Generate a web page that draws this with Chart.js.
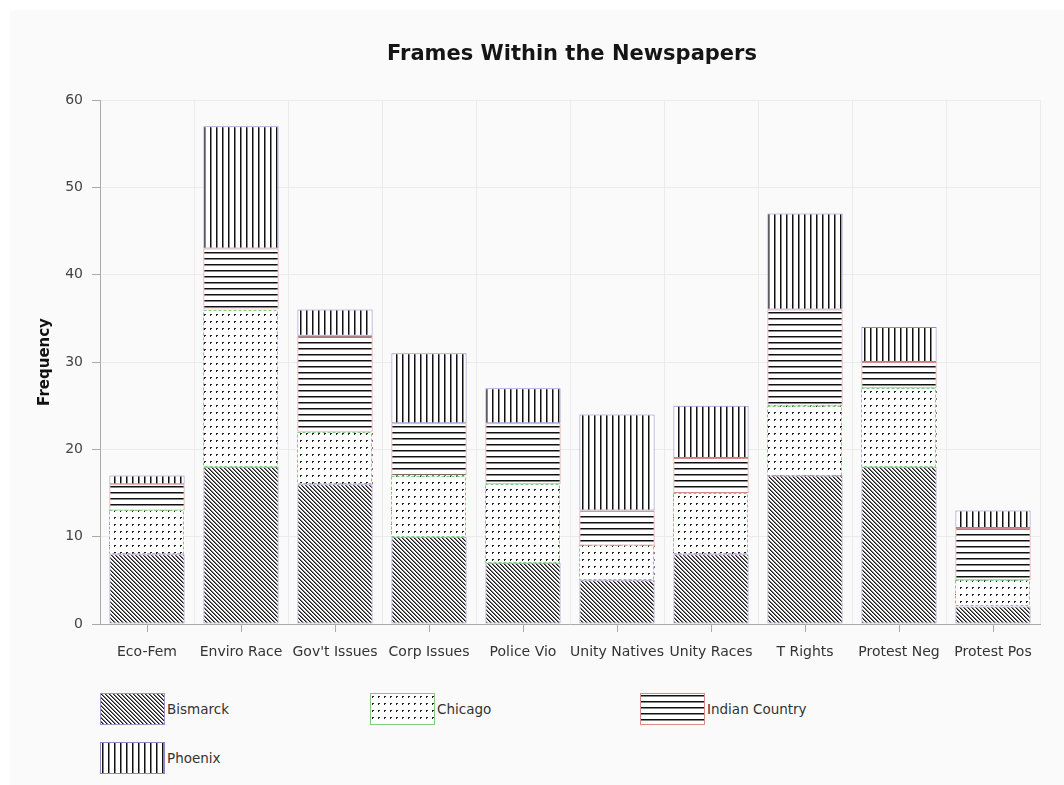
<!DOCTYPE html>
<html>
<head>
<meta charset="utf-8">
<title>Frames Within the Newspapers</title>
<script src="https://cdn.jsdelivr.net/npm/chart.js@4.4.1/dist/chart.umd.min.js"></script>
<style>
  body { margin: 0; background: #fff; font-family: "DejaVu Sans", Verdana, sans-serif; }
  #panel { position: absolute; left: 10px; top: 10px; width: 1054px; height: 775px; background: #fafafa; }
  #chartBox { position: absolute; left: 0; top: 0; width: 1054px; height: 660px; }
  .legend-item { position: absolute; display: flex; align-items: center; font-size: 13.5px; color: #333; }
  .legend-item canvas { display: block; margin-right: 2px; }
</style>
</head>
<body>
<div id="panel">
  <div id="chartBox"><canvas id="framesChart" width="1054" height="660"></canvas></div>
  <div id="legend"></div>
</div>

<script>
/* Frames Within the Newspapers: stacked bar chart, one pattern-filled
   segment per newspaper, with a grid legend underneath. */

const chartTitle = "Frames Within the Newspapers";
const categories = ["Eco-Fem", "Enviro Race", "Gov't Issues", "Corp Issues", "Police Vio",
                    "Unity Natives", "Unity Races", "T Rights", "Protest Neg", "Protest Pos"];
const seriesNames = ["Bismarck", "Chicago", "Indian Country", "Phoenix"];

// segment sizes per newspaper (stacked in this order)
const bismarck      = [8, 18, 16, 10, 7, 5, 8, 17, 18, 2];
const chicago       = [5, 18, 6, 7, 9, 4, 7, 8, 9, 3];
const indianCountry = [3, 7, 11, 6, 7, 4, 4, 11, 3, 6];
const phoenix       = [1, 14, 3, 8, 4, 11, 6, 11, 4, 2];

const yTickValues = [0, 10, 20, 30, 40, 50, 60];

const FONT = "'DejaVu Sans', Verdana, sans-serif";

/* ---------------- fill patterns ---------------- */
function makePattern(kind) {
  const tile = document.createElement("canvas");
  const g = tile.getContext("2d");
  const size = { diagonal: [4, 4], dots: [6, 7], horizontal: [4, 6], vertical: [6, 4] }[kind];
  tile.width = size[0];
  tile.height = size[1];
  g.fillStyle = "#fff";
  g.fillRect(0, 0, tile.width, tile.height);

  if (kind === "diagonal") {
    for (let i = 0; i < 4; i++) {
      g.fillStyle = "#1a1a1a";
      g.fillRect(i, i, 1, 1);
      g.fillStyle = "#777";
      g.fillRect((i + 1) % 4, i, 1, 1);
    }
  } else if (kind === "dots") {
    g.fillStyle = "#222";
    g.fillRect(2, 3, 2, 2);
    g.fillStyle = "#fff";
    g.fillRect(3, 4, 1, 1);
  } else if (kind === "horizontal") {
    g.fillStyle = "#111";
    g.fillRect(0, 2, tile.width, 1);
    g.fillStyle = "#888";
    g.fillRect(0, 3, tile.width, 1);
  } else {
    g.fillStyle = "#111";
    g.fillRect(2, 0, 1, tile.height);
    g.fillStyle = "#888";
    g.fillRect(3, 0, 1, tile.height);
  }
  return document.createElement("canvas").getContext("2d").createPattern(tile, "repeat");
}

const patternKinds = ["diagonal", "dots", "horizontal", "vertical"];
const borderColors = ["#a791c6", "#7fcb7f", "#d68c8c", "#8a8ac6"];
const seriesValues = [bismarck, chicago, indianCountry, phoenix];

/* ---------------- small drawing helpers ---------------- */
const titlePlugin = {
  id: "centeredTitle",
  afterDraw(chart) {
    const { ctx, chartArea } = chart;
    ctx.save();
    ctx.font = "bold 21px " + FONT;
    ctx.fillStyle = "#151515";
    ctx.textAlign = "center";
    ctx.textBaseline = "middle";
    ctx.fillText(chartTitle, (chartArea.left + chartArea.right) / 2 + 2, 45);
    ctx.restore();
  }
};

// tick marks under the category centres (grid lines stay on the boundaries)
const centerTicksPlugin = {
  id: "centerTicks",
  afterDraw(chart) {
    const { ctx } = chart;
    const x = chart.scales.x;
    ctx.save();
    ctx.strokeStyle = "#aaa";
    ctx.lineWidth = 1;
    ctx.beginPath();
    categories.forEach((_, i) => {
      const px = Math.round(x.getPixelForValue(i)) + 0.5;
      ctx.moveTo(px, x.top);
      ctx.lineTo(px, x.top + 8);
    });
    ctx.stroke();
    ctx.restore();
  }
};

// Chicago segments get a dashed outline
const dashedBorderPlugin = {
  id: "dashedBorder",
  afterDatasetsDraw(chart) {
    const { ctx } = chart;
    const meta = chart.getDatasetMeta(1);
    ctx.save();
    ctx.strokeStyle = borderColors[1];
    ctx.lineWidth = 1;
    ctx.setLineDash([3, 2]);
    meta.data.forEach((bar) => {
      const p = bar.getProps(["x", "y", "base", "width"], true);
      const left = Math.round(p.x - p.width / 2) + 0.5;
      const top = Math.round(p.y) + 0.5;
      ctx.strokeRect(left, top, Math.round(p.width) - 1, Math.round(p.base - p.y) - 1);
    });
    ctx.restore();
  }
};

/* ---------------- chart ---------------- */
function renderChart() {
  const ctx = document.getElementById("framesChart");

  new Chart(ctx, {
    type: "bar",
    data: {
      labels: categories,
      datasets: seriesNames.map((name, i) => ({
        label: name,
        data: seriesValues[i],
        backgroundColor: makePattern(patternKinds[i]),
        borderColor: borderColors[i],
        borderWidth: i === 1 ? 0 : 1,
        borderSkipped: false,
        barPercentage: 0.8,
        categoryPercentage: 1.0
      }))
    },
    options: {
      responsive: false,
      animation: false,
      layout: { padding: { top: 90, right: 24, left: 0, bottom: 0 } },
      plugins: {
        legend: { display: false },
        title: { display: false }
      },
      scales: {
        x: {
          stacked: true,
          grid: { color: "#ebebeb", offset: true, drawTicks: false },
          border: { color: "#aaa" },
          ticks: {
            color: "#333",
            font: { family: FONT, size: 14 },
            padding: 20,
            maxRotation: 0,
            autoSkip: false
          },
          afterFit(scale) { scale.height = 46; }
        },
        y: {
          stacked: true,
          min: yTickValues[0],
          max: yTickValues[yTickValues.length - 1],
          ticks: {
            stepSize: yTickValues[1] - yTickValues[0],
            color: "#444",
            font: { family: FONT, size: 14 },
            padding: 9
          },
          grid: { color: "#ebebeb", tickColor: "#aaa", tickLength: 8 },
          border: { color: "#aaa" },
          title: {
            display: true,
            text: "Frequency",
            color: "#111",
            font: { family: FONT, size: 15, weight: "bold" },
            padding: { top: 26, bottom: 0 }
          },
          afterFit(scale) { scale.width = 90; }
        }
      }
    },
    plugins: [titlePlugin, centerTicksPlugin, dashedBorderPlugin]
  });
}

/* ---------------- legend ---------------- */
function renderLegend() {
  const container = document.getElementById("legend");
  const spots = [[90, 683], [360, 683], [630, 683], [90, 732]];

  seriesNames.forEach((name, i) => {
    const item = document.createElement("div");
    item.className = "legend-item";
    item.style.left = spots[i][0] + "px";
    item.style.top = spots[i][1] + "px";

    const swatch = document.createElement("canvas");
    swatch.width = 65;
    swatch.height = 32;
    const g = swatch.getContext("2d");
    g.fillStyle = makePattern(patternKinds[i]);
    g.fillRect(0, 0, 65, 32);
    g.strokeStyle = borderColors[i];
    g.lineWidth = 1;
    g.strokeRect(0.5, 0.5, 64, 31);

    const label = document.createElement("span");
    label.textContent = name;

    item.appendChild(swatch);
    item.appendChild(label);
    container.appendChild(item);
  });
}

document.addEventListener("DOMContentLoaded", () => {
  renderChart();
  renderLegend();
});
</script>
</body>
</html>
